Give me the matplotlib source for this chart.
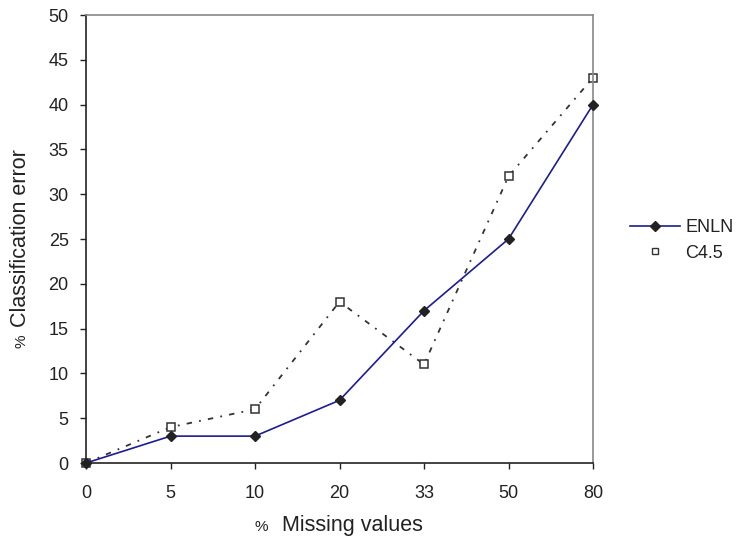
import matplotlib
matplotlib.use("Agg")
import matplotlib.pyplot as plt
from matplotlib.lines import Line2D

plt.rcParams['font.family'] = ['Liberation Sans', 'DejaVu Sans']

categories = ["0", "5", "10", "20", "33", "50", "80"]
enln = [0, 3, 3, 7, 17, 25, 40]
c45 = [0, 4, 6, 18, 11, 32, 43]
yticks = [0, 5, 10, 15, 20, 25, 30, 35, 40, 45, 50]

W, H = 737, 543
fig = plt.figure(figsize=(W / 100, H / 100), dpi=100)
ax = fig.add_axes([86 / W, 1 - 463 / H, (593 - 86) / W, (463 - 15) / H])

x = list(range(len(categories)))
ax.plot(x, c45, color='#333333', linestyle=(0, (3, 4, 1, 4)), linewidth=1.3,
        marker='s', markersize=6, markerfacecolor='white', markeredgecolor='#333333',
        markeredgewidth=1.1, zorder=2, clip_on=False)
ax.plot(x, enln, color='#1c1c96', linewidth=1.2, marker='D', markersize=5,
        markerfacecolor='#222222', markeredgecolor='#222222', zorder=3, clip_on=False)

ax.set_xlim(0, len(categories) - 1)
ax.set_ylim(0, 50)
ax.set_xticks(x)
ax.set_xticklabels(categories)
ax.set_yticks(yticks)
ax.tick_params(axis='both', direction='out', length=4.5, width=1, labelsize=13,
               colors='#222222')
ax.tick_params(axis='y', pad=8)
ax.tick_params(axis='x', pad=11)
for s in ['left', 'bottom']:
    ax.spines[s].set_color('#222222')
    ax.spines[s].set_linewidth(1.2)
for s in ['top', 'right']:
    ax.spines[s].set_color('#888888')
    ax.spines[s].set_linewidth(1.2)
for lbl in ax.get_xticklabels() + ax.get_yticklabels():
    lbl.set_color('#222222')

fig.text(255 / W, 1 - 527 / H, "%", fontsize=11, color='#222222', ha='left', va='center')
fig.text(282 / W, 1 - 525 / H, "Missing values", fontsize=15.5, color='#222222',
         ha='left', va='center')
fig.text(21 / W, 1 - 348 / H, "%", fontsize=11, color='#222222', rotation=90,
         ha='center', va='bottom')
fig.text(21 / W, 1 - 327 / H, "Classification error", fontsize=15.5, color='#222222',
         rotation=90, ha='center', va='bottom')

handles = [Line2D([], [], color='#1c1c96', linewidth=1.2, marker='D', markersize=5,
                  markerfacecolor='#222222', markeredgecolor='#222222'),
           Line2D([], [], linestyle='none', marker='s', markersize=5,
                  markerfacecolor='white', markeredgecolor='#333333')]
fig.legend(handles, ["ENLN", "C4.5"], loc='center left',
           bbox_to_anchor=(630 / W, 1 - 240.5 / H),
           frameon=False, fontsize=13, handlelength=2.77, handletextpad=0.28,
           labelspacing=0.45, borderaxespad=0, borderpad=0, labelcolor='#222222')

fig.savefig("out.png", dpi=100)
